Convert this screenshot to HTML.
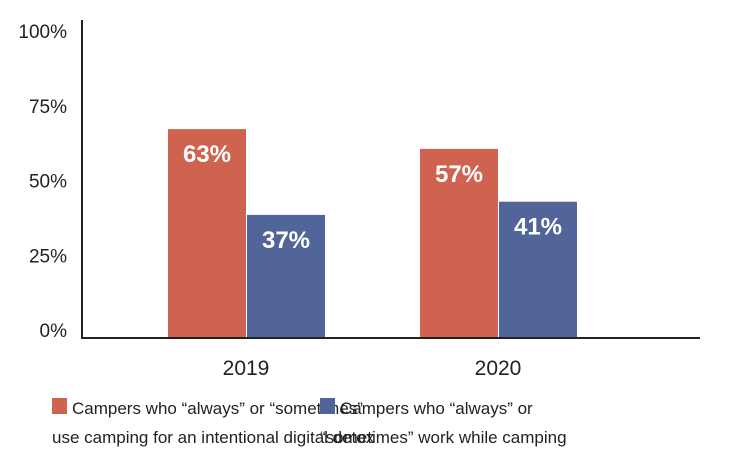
<!DOCTYPE html>
<html><head><meta charset="utf-8"><style>
body{margin:0;background:#fff;width:730px;height:460px;overflow:hidden;font-family:"Liberation Sans",sans-serif}
svg{display:block}
</style></head><body>
<svg width="730" height="460">
<g id="bars"></g>
<line x1="82" y1="20" x2="82" y2="338" stroke="#222" stroke-width="2"/>
<line x1="81" y1="338" x2="700" y2="338" stroke="#222" stroke-width="2"/>
<g id="ticks"></g>
<g font-size="17" fill="#222">
<rect x="52" y="398" width="15" height="16" fill="#d06250"/>
<text x="72" y="414">Campers who “always” or “sometimes”</text>
<text x="52" y="443">use camping for an intentional digital detox</text>
<rect x="320" y="398" width="15" height="16" fill="#52659a"/>
<text x="340" y="414">Campers who “always” or</text>
<text x="320" y="443">“sometimes” work while camping</text>
</g>
</svg>
<script>
const categories=["2019","2020"];
const detox=[63,57];
const work=[37,41];
const tickValues=[0,25,50,75,100];
const tickLabels=["0%","25%","50%","75%","100%"];
const NS="http://www.w3.org/2000/svg";
const y=v=>337-v*3.3;
const tickY=v=>330-v*2.99;
const groupX=i=>168+i*252;
const bars=document.getElementById("bars");
function mk(tag,attrs){const e=document.createElementNS(NS,tag);for(const k in attrs)e.setAttribute(k,attrs[k]);return e;}
categories.forEach((c,i)=>{
  const x0=groupX(i);
  [[detox[i],"#d06250",0,"detox"],[work[i],"#52659a",79,"work"]].forEach(([v,col,off,nm])=>{
    const r=mk("rect",{x:x0+off,y:y(v),width:78,height:337-y(v),fill:col});
    
    
    bars.appendChild(r);
    const t=mk("text",{x:x0+off+39,y:y(v)+33,"text-anchor":"middle","font-size":"24","font-weight":"bold",fill:"#fff"});
    t.textContent=v+"%";
    
    
    bars.appendChild(t);
  });
  const l=mk("text",{x:x0+78,y:375,"text-anchor":"middle","font-size":"21",fill:"#222"});
  l.textContent=c;
  
  
  bars.appendChild(l);
});
const ticks=document.getElementById("ticks");
tickValues.forEach((v,i)=>{
  const t=mk("text",{x:67,y:tickY(v)+7,"text-anchor":"end","font-size":"19",fill:"#222"});
  t.textContent=tickLabels[i];
  
  
  ticks.appendChild(t);
});
</script>
</body></html>
